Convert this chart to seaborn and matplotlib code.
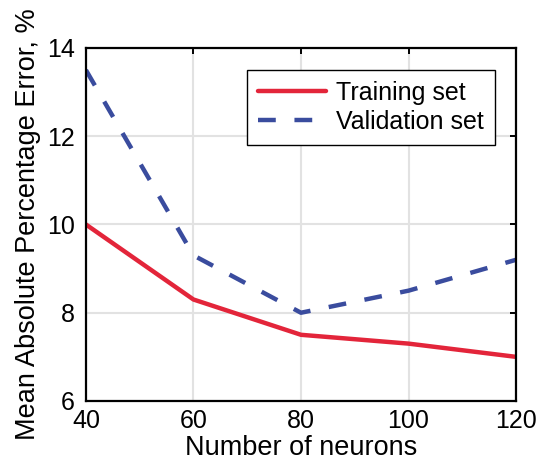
import matplotlib
matplotlib.use("Agg")
import matplotlib.pyplot as plt
import seaborn as sns
import pandas as pd

neurons = [40, 60, 80, 100, 120]
training = [10.0, 8.3, 7.5, 7.3, 7.0]
validation = [13.5, 9.3, 8.0, 8.5, 9.2]

sns.set_theme(style="whitegrid")
plt.rcParams['font.family'] = ['Liberation Sans', 'DejaVu Sans']
plt.rcParams['text.color'] = 'black'

df = pd.DataFrame({"neurons": neurons * 2,
                   "mape": training + validation,
                   "set": ["Training set"] * 5 + ["Validation set"] * 5})

fig = plt.figure(figsize=(5.37, 4.76), dpi=100)
ax = fig.add_axes([0.160, 0.1576, 0.801, 0.7416])

sns.lineplot(data=df, x="neurons", y="mape", hue="set", style="set",
             palette=["#E3253A", "#3A4C9E"], dashes=[(None, None), (4, 4.2)],
             linewidth=3.2, ax=ax)

ax.set_xlim(40, 120)
ax.set_ylim(6, 14)
ax.set_xticks(neurons)
ax.set_yticks([6, 8, 10, 12, 14])
ax.set_xlabel("Number of neurons", fontsize=19.5, color="black", labelpad=1)
ax.set_ylabel("Mean Absolute Percentage Error, %", fontsize=19.5, color="black", labelpad=4)
ax.tick_params(axis="both", which="both", direction="in", length=4, width=1.4,
               labelsize=18, labelcolor="black", color="black", top=True, right=True)
ax.tick_params(axis="y", pad=8)
ax.tick_params(axis="x", pad=6)
ax.grid(True, color="#e2e2e2", linewidth=1.5)
for s in ax.spines.values():
    s.set_color("black")
    s.set_linewidth(1.6)
ax.set_facecolor("white")

leg = ax.legend(loc="upper right", bbox_to_anchor=(0.951, 0.938), borderaxespad=0,
                fontsize=18, frameon=True, fancybox=False, edgecolor="black",
                framealpha=1, handlelength=2.7, borderpad=0.45, labelspacing=0.2,
                handletextpad=0.4)
leg.get_frame().set_linewidth(1.0)
for t in leg.get_texts():
    t.set_color("black")

fig.savefig("out.png", dpi=100)
